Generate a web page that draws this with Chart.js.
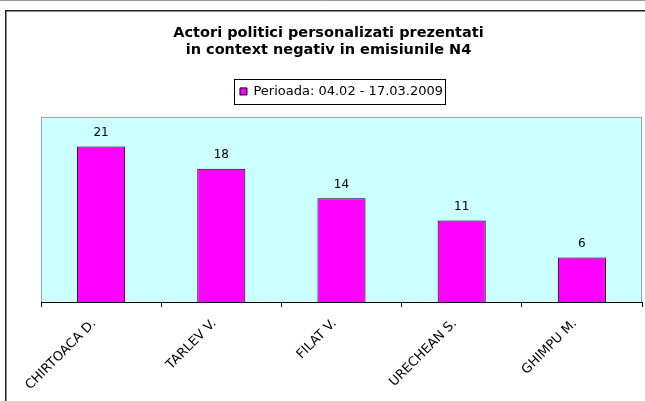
<!DOCTYPE html>
<html>
<head>
<meta charset="utf-8">
<title>Actori politici - N4</title>
<script src="https://cdn.jsdelivr.net/npm/chart.js@4.4.1/dist/chart.umd.min.js"></script>
<style>
  html, body { margin: 0; padding: 0; background: #fff; }
</style>
</head>
<body>
<canvas id="myChart" width="645" height="401"></canvas>
<script>
// date
var actori = ['CHIRTOACA D.', 'TARLEV V.', 'FILAT V.', 'URECHEAN S.', 'GHIMPU M.'];
var aparitii = [21, 18, 14, 11, 6];
var perioada = 'Perioada: 04.02 - 17.03.2009';
var titlu = ['Actori politici personalizati prezentati', 'in context negativ in emisiunile N4'];
var axaMax = 25;

var FONT = "'DejaVu Sans', Verdana, sans-serif";
Chart.defaults.font.family = FONT;
Chart.defaults.color = '#000';

// fundalul, rama neagra si zona cyan din spatele barelor
var fundal = {
    id: 'fundal',
    beforeDraw: function (chart) {
        var ctx = chart.ctx, a = chart.chartArea;
        ctx.save();
        ctx.fillStyle = '#fff';
        ctx.fillRect(0, 0, chart.width, chart.height);
        ctx.strokeStyle = '#9a9a9a';
        ctx.lineWidth = 1;
        ctx.beginPath();
        ctx.moveTo(0, 0.5);
        ctx.lineTo(chart.width, 0.5);
        ctx.stroke();
        ctx.strokeStyle = '#222';
        ctx.lineWidth = 1.5;
        ctx.beginPath();
        ctx.moveTo(5.75, chart.height);
        ctx.lineTo(5.75, 10.75);
        ctx.lineTo(chart.width, 10.75);
        ctx.stroke();
        ctx.fillStyle = '#ccffff';
        ctx.fillRect(a.left, a.top, a.right - a.left, a.bottom - a.top);
        ctx.strokeStyle = '#a0a0a0';
        ctx.lineWidth = 1;
        ctx.strokeRect(a.left + 0.5, a.top + 0.5, a.right - a.left - 1, a.bottom - a.top);
        ctx.restore();
    }
};

// chenar in jurul legendei
var chenarLegenda = {
    id: 'chenarLegenda',
    afterDraw: function (chart) {
        var hb = chart.legend.legendHitBoxes[0];
        if (!hb) return;
        var ctx = chart.ctx;
        ctx.save();
        ctx.strokeStyle = '#000';
        ctx.lineWidth = 1;
        ctx.strokeRect(Math.round(hb.left - 6) + 0.5, Math.round(hb.top - 6) + 0.5,
            Math.round(hb.width + 8), Math.round(hb.height + 12));
        ctx.restore();
    }
};

// valorile deasupra barelor
var valori = {
    id: 'valori',
    afterDatasetsDraw: function (chart) {
        var ctx = chart.ctx;
        ctx.save();
        ctx.font = '12px ' + FONT;
        ctx.fillStyle = '#000';
        ctx.textAlign = 'center';
        ctx.textBaseline = 'alphabetic';
        chart.getDatasetMeta(0).data.forEach(function (bar, i) {
            ctx.fillText(aparitii[i], bar.x, bar.y - 10.5);
        });
        ctx.restore();
    }
};

var ctx = document.getElementById('myChart').getContext('2d');
var myChart = new Chart(ctx, {
    type: 'bar',
    data: {
        labels: actori,
        datasets: [{
            label: perioada,
            data: aparitii,
            backgroundColor: '#ff00ff',
            borderColor: '#000',
            borderWidth: 1,
            barPercentage: 0.4,
            categoryPercentage: 1
        }]
    },
    options: {
        responsive: false,
        animation: false,
        layout: { padding: { left: 15, right: 3, top: 0, bottom: 0 } },
        plugins: {
            title: {
                display: true,
                text: titlu,
                color: '#000',
                font: { size: 14.5, weight: 'bold', lineHeight: 1.17 },
                padding: { top: 25, bottom: 0 }
            },
            legend: {
                display: true,
                fullSize: false,
                labels: {
                    boxWidth: 7,
                    boxHeight: 7,
                    padding: 26,
                    color: '#000',
                    font: { size: 13 }
                }
            },
            tooltip: { enabled: false }
        },
        scales: {
            x: {
                grid: { display: true, offset: true, drawOnChartArea: false, drawTicks: true, tickLength: 5, color: '#000' },
                border: { display: true, color: '#000', width: 1 },
                ticks: { color: '#000', font: { size: 13 }, minRotation: 45, maxRotation: 45, autoSkip: false, padding: 9, labelOffset: -7 },
                afterFit: function (s) { s.height = 99; }
            },
            // spatiu liber intre legenda si zona graficului
            spatiu: {
                type: 'category',
                position: 'top',
                grid: { display: false },
                border: { display: false },
                ticks: { display: false },
                afterFit: function (s) { s.height = 9; }
            },
            y: {
                min: 0,
                max: axaMax,
                grid: { display: false },
                border: { display: false },
                ticks: { display: false },
                afterFit: function (s) { s.width = 26; }
            }
        }
    },
    plugins: [fundal, chenarLegenda, valori]
});
</script>
</body>
</html>
